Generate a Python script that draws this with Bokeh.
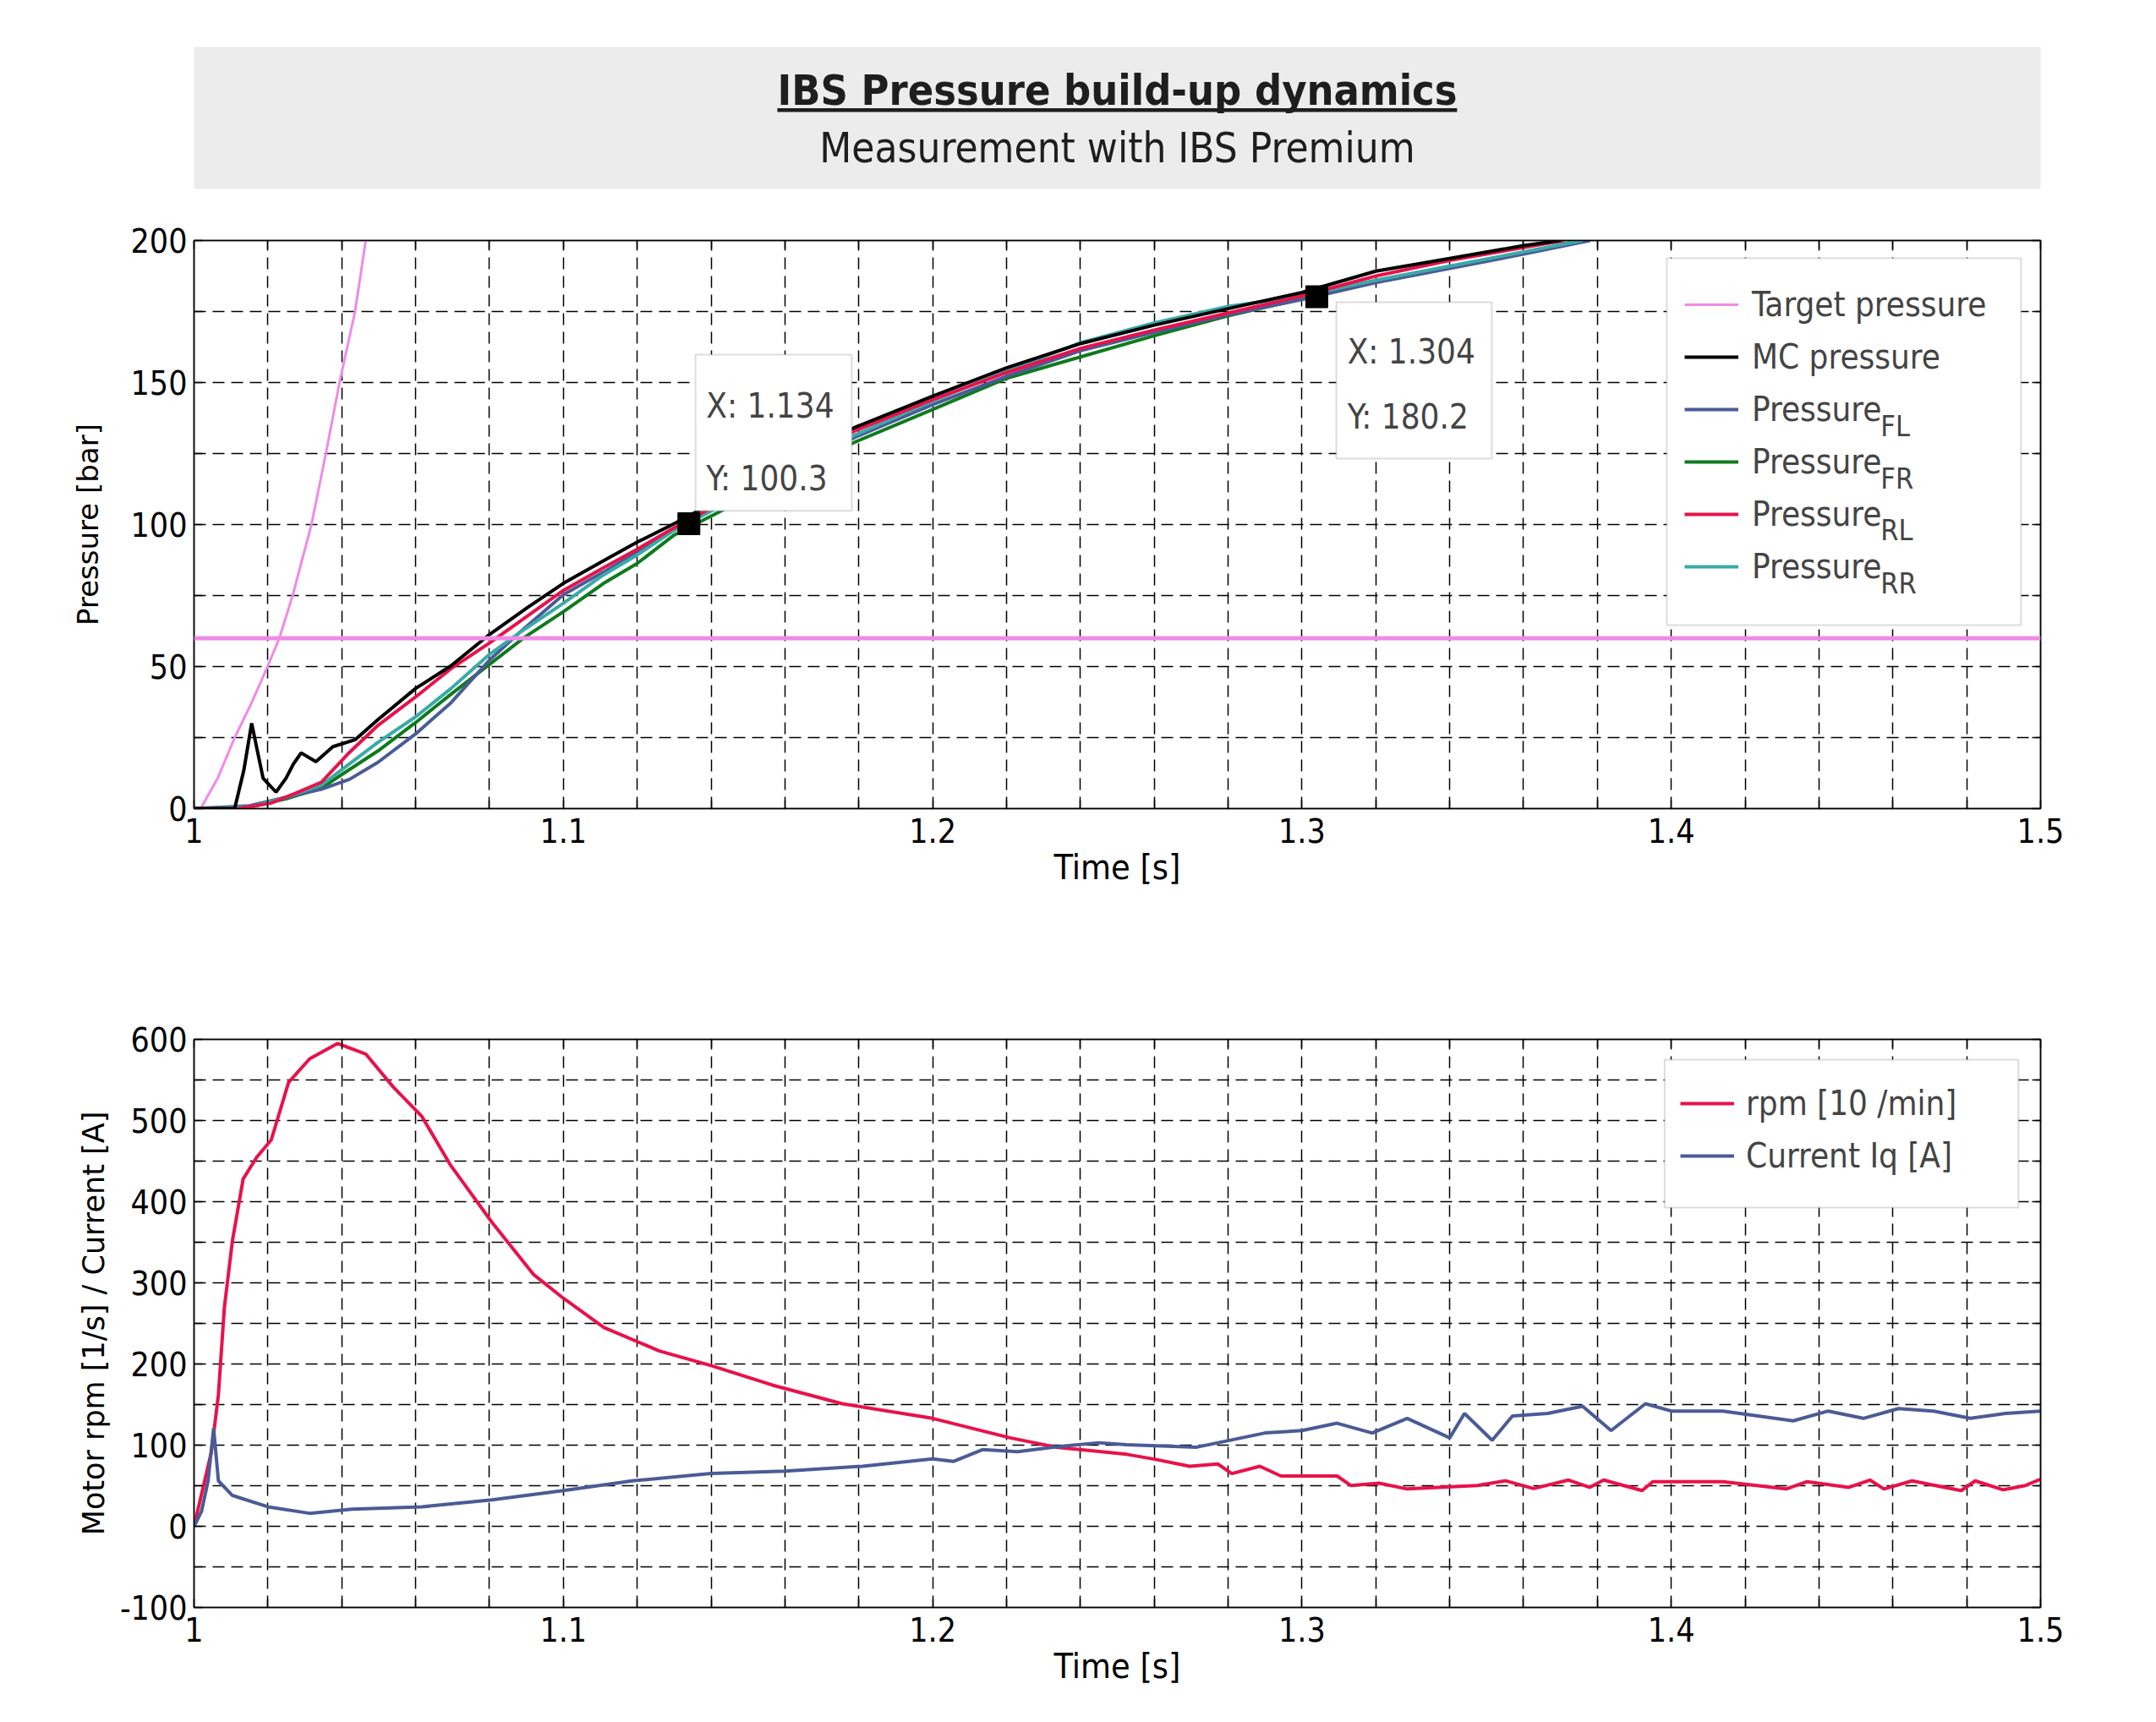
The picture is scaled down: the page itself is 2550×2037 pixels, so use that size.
from bokeh.plotting import figure
from bokeh.layouts import column
from bokeh.models import (Range1d, FixedTicker, CustomJSTickFormatter, LinearAxis,
                          Legend, LegendItem, Label, BoxAnnotation, Span)
from bokeh.embed import file_html
from bokeh.resources import INLINE

FONT = "DejaVu Sans Condensed"
YFONT = "DejaVu Sans"

# --- ticks ---
x_ticks = [1.0, 1.1, 1.2, 1.3, 1.4, 1.5]
x_minor = [1.02, 1.04, 1.06, 1.08, 1.12, 1.14, 1.16, 1.18, 1.22, 1.24, 1.26, 1.28,
           1.32, 1.34, 1.36, 1.38, 1.42, 1.44, 1.46, 1.48]
p_ticks = [0, 50, 100, 150, 200]
p_minor = [25, 75, 125, 175]
m_ticks = [-100, 0, 100, 200, 300, 400, 500, 600]
m_minor = [-50, 50, 150, 250, 350, 450, 550]

# --- pressure build-up [bar] ---
t_target = [1.0, 1.0018, 1.0064, 1.011, 1.0155, 1.0199, 1.0231, 1.0267, 1.0318, 1.0357,
            1.0394, 1.0436, 1.0465]
p_target = [0, 0, 10.7, 25, 37, 50, 60, 75, 100, 125, 150, 175, 200]
target_level = 60

t_mc = [1.0, 1.011, 1.0135, 1.0156, 1.0187, 1.0222, 1.0249, 1.0269, 1.029, 1.033,
        1.0376, 1.0437, 1.0498, 1.06, 1.0696, 1.08, 1.0903, 1.10, 1.1109, 1.12,
        1.13, 1.1789, 1.20, 1.22, 1.24, 1.26, 1.28, 1.30, 1.32, 1.34, 1.36, 1.37]
p_mc = [0, 0, 13.6, 30, 10.7, 5.8, 10.7, 15.7, 19.6, 16.5,
        21.8, 24.3, 31.3, 42.3, 50.3, 61.3, 70.8, 79.3, 87.3, 93.8,
        100.3, 134.2, 145.2, 155.2, 163.7, 170.2, 176, 181.7, 189.2, 193.7, 198.2, 200]

t_fl = [1.0, 1.015, 1.025, 1.0345, 1.0421, 1.0498, 1.06, 1.0696, 1.08, 1.088,
        1.10, 1.1109, 1.12, 1.1292, 1.1789, 1.20, 1.22, 1.24, 1.26, 1.28,
        1.30, 1.32, 1.34, 1.36, 1.378]
p_fl = [0, 1, 4, 6.8, 10.3, 16.3, 26.3, 37.3, 52.3, 61.8,
        75.3, 83.3, 90.3, 97.8, 130.7, 142.2, 152.2, 161.2, 167.7, 173.9,
        179.2, 185.2, 190.2, 195.2, 200]

t_fr = [1.0, 1.015, 1.025, 1.0345, 1.0498, 1.06, 1.0696, 1.08, 1.0895, 1.10,
        1.1109, 1.12, 1.13, 1.1789, 1.20, 1.22, 1.24, 1.26, 1.28, 1.30,
        1.32, 1.34, 1.36, 1.375]
p_fr = [0, 0.5, 3.5, 7.3, 20.3, 30.3, 40.3, 50.8, 60.3, 69.3,
        79.3, 86.3, 96.3, 129, 140.5, 151.5, 159, 166.5, 173.5, 179.5,
        185.5, 190.5, 195.5, 200]

t_rl = [1.0, 1.012, 1.0207, 1.0268, 1.0345, 1.0421, 1.0498, 1.06, 1.0696, 1.08,
        1.0903, 1.10, 1.1109, 1.12, 1.1292, 1.1789, 1.20, 1.22, 1.24, 1.26,
        1.28, 1.30, 1.32, 1.34, 1.36, 1.371]
p_rl = [0, 0, 1.9, 5, 9.3, 19.8, 29.3, 39.3, 49.3, 58.3,
        67.8, 76.8, 84.8, 91.3, 98.3, 133, 144, 153.5, 162, 168.5,
        174.5, 180.5, 187.5, 193, 197.5, 200]

t_rr = [1.0, 1.015, 1.025, 1.0345, 1.0498, 1.06, 1.0696, 1.08, 1.088, 1.10,
        1.1109, 1.12, 1.1292, 1.1789, 1.20, 1.22, 1.24, 1.26, 1.28, 1.30,
        1.32, 1.34, 1.36, 1.376]
p_rr = [0, 0.5, 4, 8.3, 23.3, 32.3, 42.3, 54.3, 61.8, 72.3,
        82.3, 89.3, 97.3, 131.5, 143.5, 154, 164, 171, 176.8, 180.5,
        186, 191, 196, 200]

tip_x = [1.134, 1.304]
tip_y = [100.3, 180.2]

# --- motor ---
t_rpm = [1.0, 1.0047, 1.0066, 1.0082, 1.0104, 1.0133, 1.017, 1.0209, 1.0256, 1.0313,
         1.0389, 1.0465, 1.054, 1.0617, 1.0693, 1.0806, 1.092, 1.10, 1.111, 1.126,
         1.140, 1.1566, 1.1755, 1.20, 1.221, 1.2335, 1.2525, 1.2601, 1.2696, 1.2772,
         1.281, 1.2886, 1.2943, 1.3095, 1.3133, 1.3209, 1.3285, 1.3475, 1.3551, 1.3627,
         1.3722, 1.3779, 1.3817, 1.3921, 1.395, 1.414, 1.4311, 1.4368, 1.4481, 1.4538,
         1.4576, 1.4652, 1.4785, 1.4823, 1.4899, 1.4957, 1.5]
rpm = [0, 91.6, 162, 269, 352, 428, 455, 476, 547, 576,
       595, 582, 541, 505, 446, 375, 310, 281, 245, 216,
       198, 174, 151, 133, 109, 97.5, 88.7, 82.7, 73.9, 76.8,
       65, 73.9, 62, 62, 50.2, 53.2, 46, 50.2, 56.1, 46.5,
       57, 48, 57, 44, 55, 55, 46, 55, 48, 57,
       46, 56, 44, 56, 45, 50, 58]

t_iq = [1.0, 1.002, 1.0038, 1.0053, 1.0066, 1.0104, 1.02, 1.0313, 1.0427, 1.0617,
        1.0806, 1.10, 1.1186, 1.140, 1.160, 1.181, 1.20, 1.2057, 1.2135, 1.223,
        1.2325, 1.245, 1.2525, 1.2715, 1.290, 1.30, 1.3095, 1.319, 1.3285, 1.34,
        1.344, 1.3515, 1.357, 1.3665, 1.376, 1.3837, 1.393, 1.40, 1.414, 1.4235,
        1.433, 1.4425, 1.452, 1.4615, 1.471, 1.481, 1.4905, 1.50]
iq = [0, 18, 56, 121, 56, 38, 24, 16, 21, 24,
      32.5, 44, 56, 65, 68, 74, 83, 80, 94.5, 92,
      97.5, 103, 100.5, 97.5, 115, 118, 127, 115, 133, 109,
      139, 106, 136, 139, 148, 118, 151, 142, 142, 136,
      130, 142, 133, 145, 142, 133, 139, 142]

C_TARGET = "#f08ae8"
C_FL = "#4a5b96"
C_FR = "#0f7a1e"
C_RL = "#e8124a"
C_RR = "#3aaaa8"
LW = 4

W = 2534
BL, BR = 229, 121


def frame_style(p, yticks, yminor, ylabel, ylabel_standoff, ylabel_size):
    xt = FixedTicker(ticks=x_ticks, minor_ticks=x_minor)
    yt = FixedTicker(ticks=yticks, minor_ticks=yminor)
    p.xaxis.ticker = xt
    p.yaxis.ticker = yt
    p.xaxis.formatter = CustomJSTickFormatter(code="return Number(tick.toFixed(2)).toString();")
    p.yaxis.formatter = CustomJSTickFormatter(code="return tick.toString();")
    p.xaxis.axis_label = "Time [s]"
    p.yaxis.axis_label = ylabel
    for ax in p.axis:
        ax.axis_line_color = "black"
        ax.axis_line_width = 1.5
        ax.major_tick_in = 10
        ax.major_tick_out = 0
        ax.minor_tick_in = 10
        ax.minor_tick_out = 0
        ax.major_tick_line_width = 1.5
        ax.minor_tick_line_width = 1.5
        ax.major_label_text_font = FONT
        ax.major_label_text_font_size = "39px"
        ax.major_label_text_color = "black"
        ax.axis_label_text_font_style = "normal"
        ax.axis_label_text_color = "black"
    p.xaxis.major_label_standoff = 11
    p.xaxis.axis_label_text_font = FONT
    p.xaxis.axis_label_text_font_size = "41px"
    p.xaxis.axis_label_standoff = 2
    p.yaxis.major_label_standoff = 8
    p.yaxis.axis_label_text_font = YFONT
    p.yaxis.axis_label_text_font_size = ylabel_size
    p.yaxis.axis_label_standoff = ylabel_standoff
    # tick marks on the top and right edges, no labels
    for side, tk in (("above", xt), ("right", yt)):
        p.add_layout(LinearAxis(ticker=tk, formatter=CustomJSTickFormatter(code="return '';"),
                                major_tick_in=10, major_tick_out=0,
                                minor_tick_in=10, minor_tick_out=0,
                                major_tick_line_width=1.5, minor_tick_line_width=1.5,
                                axis_line_color="black", axis_line_width=1.5), side)
    p.grid.grid_line_color = "black"
    p.grid.grid_line_dash = "14 8"
    p.grid.grid_line_width = 1.5
    p.grid.minor_grid_line_color = "black"
    p.grid.minor_grid_line_dash = "14 8"
    p.grid.minor_grid_line_width = 1.5
    p.outline_line_color = "black"
    p.outline_line_width = 1.5
    p.background_fill_color = "white"
    p.border_fill_color = "white"


# --- title panel ---
head = figure(width=W, height=243, x_range=Range1d(0, 1), y_range=Range1d(0, 1),
              x_axis_location=None, y_axis_location=None, tools="",
              toolbar_location=None, output_backend="svg",
              min_border_left=BL, min_border_right=BR, min_border_top=55, min_border_bottom=20)
head.grid.visible = False
head.outline_line_color = None
head.background_fill_color = "#ececec"
head.add_layout(Label(x=0.5, y=0.696, text="IBS Pressure build-up dynamics",
                      text_align="center", text_baseline="alphabetic", text_font=FONT,
                      text_font_size="50px", text_font_style="bold", text_color="#1e1e1e"))
head.add_layout(BoxAnnotation(left=0.3159, right=0.684, bottom=0.541, top=0.568,
                              fill_color="#1e1e1e", fill_alpha=1, line_color=None))
head.add_layout(Label(x=0.5, y=0.286, text="Measurement with IBS Premium",
                      text_align="center", text_baseline="alphabetic", text_font=FONT,
                      text_font_size="49px", text_color="#1e1e1e"))

# --- pressure plot ---
p1 = figure(width=W, height=863, x_range=Range1d(1, 1.5), y_range=Range1d(0, 200),
            tools="", toolbar_location=None, output_backend="svg",
            min_border_left=BL, min_border_right=BR, min_border_top=41, min_border_bottom=150)
frame_style(p1, p_ticks, p_minor, "Pressure [bar]", 28, "34px")

r_target = p1.line(t_target, p_target, color=C_TARGET, line_width=3)
p1.add_layout(Span(location=target_level, dimension="width", line_color=C_TARGET, line_width=5))
r_fr = p1.line(t_fr, p_fr, color=C_FR, line_width=LW)
r_fl = p1.line(t_fl, p_fl, color=C_FL, line_width=LW)
r_rr = p1.line(t_rr, p_rr, color=C_RR, line_width=LW)
r_rl = p1.line(t_rl, p_rl, color=C_RL, line_width=LW)
r_mc = p1.line(t_mc, p_mc, color="black", line_width=LW)
p1.scatter(tip_x, tip_y, marker="square", size=26, color="black")

# data tips
for left, right, bottom, top in ((1.1358, 1.1781, 104.8, 159.8),
                                 (1.3093, 1.3514, 123.2, 178.3)):
    p1.add_layout(BoxAnnotation(left=left, right=right, bottom=bottom, top=top,
                                fill_color="white", fill_alpha=1,
                                line_color="#8c8c8c", line_width=2))
for i, (lx, ly) in enumerate(((1.1387, (141.9, 116.3)), (1.3123, (160.9, 137.9)))):
    p1.add_layout(Label(x=lx, y=ly[0], text="X: %.3f" % tip_x[i], text_font=FONT,
                        text_font_size="40px", text_baseline="alphabetic"))
    p1.add_layout(Label(x=lx, y=ly[1], text="Y: %.1f" % tip_y[i], text_font=FONT,
                        text_font_size="40px", text_baseline="alphabetic"))

p1.add_layout(BoxAnnotation(left=1.3988, right=1.4947, bottom=64.6, top=193.75,
                            fill_color="white", fill_alpha=1,
                            line_color="#8c8c8c", line_width=2))
leg1 = Legend(items=[LegendItem(label="Target pressure", renderers=[r_target]),
                     LegendItem(label="MC pressure", renderers=[r_mc]),
                     LegendItem(label="Pressure", renderers=[r_fl]),
                     LegendItem(label="Pressure", renderers=[r_fr]),
                     LegendItem(label="Pressure", renderers=[r_rl]),
                     LegendItem(label="Pressure", renderers=[r_rr])],
              location=(1763, 255), padding=0, spacing=0, margin=0,
              glyph_width=64, glyph_height=62, label_height=62, label_standoff=16,
              label_text_font=FONT, label_text_font_size="40px",
              background_fill_alpha=0, border_line_color=None)
p1.add_layout(leg1)
for sub, sy in (("FL", 134.7), ("FR", 116.3), ("RL", 98.1), ("RR", 79.4)):
    p1.add_layout(Label(x=1.4567, y=sy, text=sub, text_font=FONT, text_font_size="34px",
                        text_baseline="alphabetic"))

# --- motor plot ---
p2 = figure(width=W, height=915, x_range=Range1d(1, 1.5), y_range=Range1d(-100, 600),
            tools="", toolbar_location=None, output_backend="svg",
            min_border_left=BL, min_border_right=BR, min_border_top=123, min_border_bottom=120)
frame_style(p2, m_ticks, m_minor, "Motor rpm [1/s] / Current [A]", 8, "35px")

r_rpm = p2.line(t_rpm, rpm, color=C_RL, line_width=LW)
r_iq = p2.line(t_iq, iq, color=C_FL, line_width=LW)

p2.add_layout(BoxAnnotation(left=1.3982, right=1.494, bottom=392.7, top=575,
                            fill_color="white", fill_alpha=1,
                            line_color="#8c8c8c", line_width=2))
leg2 = Legend(items=[LegendItem(label="rpm [10 /min]", renderers=[r_rpm]),
                     LegendItem(label="Current Iq [A]", renderers=[r_iq])],
              location=(1758, 503), padding=0, spacing=0, margin=0,
              glyph_width=64, glyph_height=62, label_height=62, label_standoff=14,
              label_text_font=FONT, label_text_font_size="40px",
              background_fill_alpha=0, border_line_color=None)
p2.add_layout(leg2)

page = column(head, p1, p2, spacing=0)
open("out.html", "w").write(file_html(page, INLINE))
